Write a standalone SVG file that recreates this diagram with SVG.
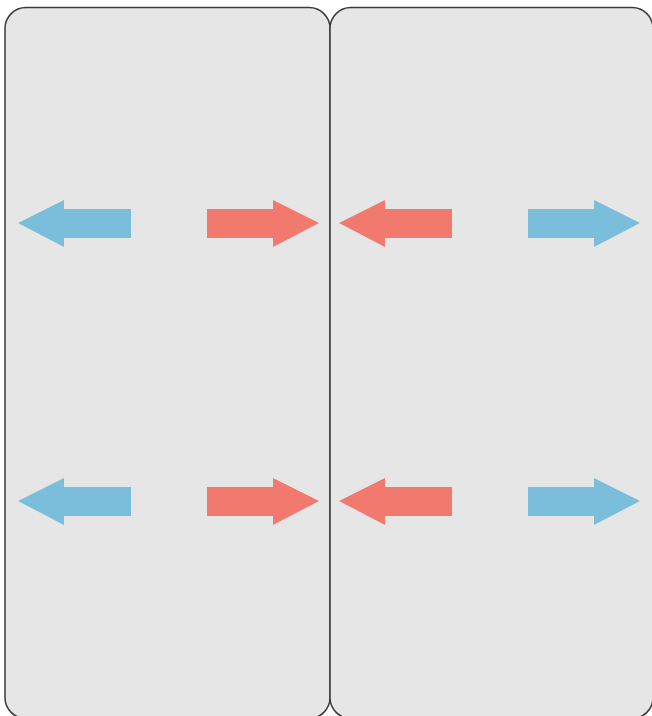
<svg xmlns="http://www.w3.org/2000/svg" width="652" height="716" viewBox="0 0 652 716">
<style>
.panel{fill:#e6e6e6;stroke:#3a3a3a;stroke-width:1.5}
.blue{fill:#7bbedb}
.red{fill:#f2796d}
</style>
<defs>
<path id="al" d="M0,0 L46,-23 L46,-14 L113,-14 L113,15 L46,15 L46,24 Z"/>
<path id="ar" d="M0,0 L-46,-23 L-46,-14 L-112,-14 L-112,15 L-46,15 L-46,24 Z"/>
</defs>
<rect id="background" x="0" y="0" width="652" height="716" fill="#ffffff"/>
<g id="panel-left"><rect class="panel" x="5" y="7.5" width="325" height="711" rx="21"/></g>
<g id="panel-right"><rect class="panel" x="330" y="7.5" width="323" height="711" rx="21"/></g>
<g id="connectors">
<use href="#al" class="blue" x="18" y="223"/>
<use href="#ar" class="red" x="319" y="223"/>
<use href="#al" class="red" x="339" y="223"/>
<use href="#ar" class="blue" x="640" y="223"/>
<use href="#al" class="blue" x="18" y="501"/>
<use href="#ar" class="red" x="319" y="501"/>
<use href="#al" class="red" x="339" y="501"/>
<use href="#ar" class="blue" x="640" y="501"/>
</g>
</svg>
